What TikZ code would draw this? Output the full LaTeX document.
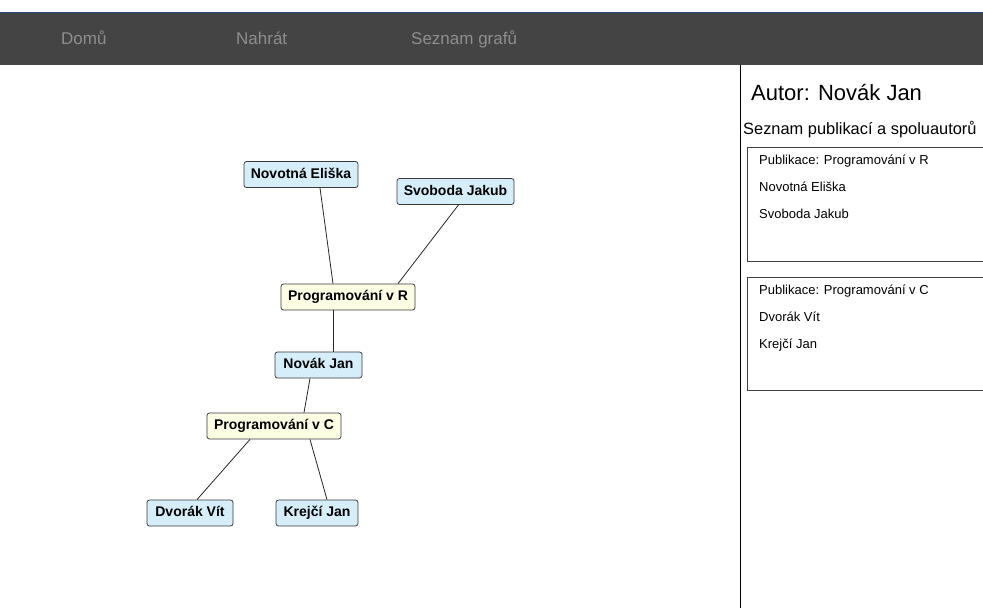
\documentclass[tikz,border=0pt]{standalone}
\usepackage{fontspec}
\setmainfont{Liberation Sans}
\usetikzlibrary{calc}
\definecolor{barbg}{HTML}{444444}
\definecolor{navtxt}{HTML}{8E8E8E}
\definecolor{authfill}{HTML}{D5EEFA}
\definecolor{pubfill}{HTML}{FDFDE4}
\definecolor{nodeline}{HTML}{3A3A3A}
\definecolor{barline}{HTML}{2E4A7A}
\tikzset{
  base/.style={draw=nodeline, line width=0.8pt, rounded corners=2.5pt,
    inner xsep=5pt, inner ysep=0pt, text height=10pt, text depth=3pt,
    minimum height=26pt, font=\fontsize{14}{16}\selectfont\bfseries},
  author/.style={base, fill=authfill},
  pub/.style={base, fill=pubfill},
  edge/.style={draw=black!85, line width=0.8pt},
  nav/.style={text=navtxt, anchor=base west, font=\fontsize{17}{20}\selectfont, inner sep=0pt},
  pane/.style={anchor=base west, inner sep=0pt},
  listbox/.style={draw=black!75, line width=0.9pt}
}
\begin{document}
\begin{tikzpicture}[x=1pt, y=-1pt]
\useasboundingbox (0,0) rectangle (983,608);
% top navigation bar
\fill[barbg] (0,12) rectangle (983,65);
\draw[barline, line width=0.8pt] (0,12.4) -- (983,12.4);
\node[nav] (home) at (61,44) {Domů};
\node[nav] (upload) at (236,44) {Nahrát};
\node[nav] (list) at (411,44) {Seznam grafů};

% graph
\node[author, minimum width=114pt] (ne) at (301,174.5) {Novotná Eliška};
\node[author, minimum width=117pt] (sj) at (455.5,191.5) {Svoboda Jakub};
\node[pub, minimum width=134pt] (pr) at (348,297) {Programování v R};
\node[author, minimum width=87pt] (nj) at (318.5,365) {Novák Jan};
\node[pub, minimum width=134pt] (pc) at (274,426) {Programování v C};
\node[author, minimum width=86pt] (dv) at (190,513) {Dvorák Vít};
\node[author, minimum width=82pt] (kj) at (317,513) {Krejčí Jan};

\draw[edge] ([xshift=19pt]ne.south) -- ([xshift=-15pt]pr.north);
\draw[edge] ([xshift=3pt]sj.south) -- ([xshift=50pt]pr.north);
\draw[edge] ([xshift=-15pt]pr.south) -- ([xshift=14.5pt]nj.north);
\draw[edge] ([xshift=-8.5pt]nj.south) -- ([xshift=30pt]pc.north);
\draw[edge] ([xshift=-24pt]pc.south) -- ([xshift=7pt]dv.north);
\draw[edge] ([xshift=36pt]pc.south) -- ([xshift=10pt]kj.north);

% side panel
\draw[black, line width=1pt] (740.5,65) -- (740.5,608);
\node[pane, font=\fontsize{22}{26}\selectfont] (autor) at (751,100) {Autor: Novák Jan};
\node[pane, font=\fontsize{16.4}{20}\selectfont] (seznam) at (743,134) {Seznam publikací a spoluautorů};
\begin{scope}
\clip (741,100) rectangle (983,608);
\draw[listbox] (747.5,147.5) rectangle (990,261);
\draw[listbox] (747.5,277.5) rectangle (990,390);
\end{scope}
\begin{scope}[every node/.style={pane, font=\fontsize{13}{15}\selectfont}]
\node (p1) at (759,164) {Publikace: Programování v R};
\node (p1a) at (759,191) {Novotná Eliška};
\node (p1b) at (759,218) {Svoboda Jakub};
\node (p2) at (759,294) {Publikace: Programování v C};
\node (p2a) at (759,321) {Dvorák Vít};
\node (p2b) at (759,348) {Krejčí Jan};
\end{scope}
\end{tikzpicture}
\end{document}
